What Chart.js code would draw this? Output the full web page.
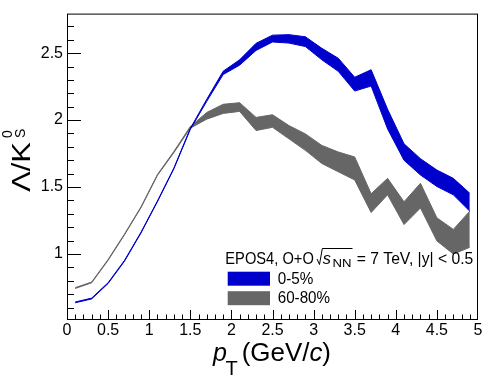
<!DOCTYPE html>
<html>
<head>
<meta charset="utf-8">
<script src="https://cdn.jsdelivr.net/npm/chart.js@4.4.0/dist/chart.umd.min.js"></script>
<style>
  html, body { margin: 0; padding: 0; background: #fff; }
  #wrap { width: 488px; height: 384px; }
</style>
</head>
<body>
<div id="wrap"><canvas id="chart" width="488" height="384"></canvas></div>
<script>
// pT bin centres (GeV/c)
const pT = [0.1, 0.3, 0.5, 0.7, 0.9, 1.1, 1.3, 1.5, 1.7, 1.9, 2.1, 2.3, 2.5,
            2.7, 2.9, 3.1, 3.3, 3.5, 3.7, 3.9, 4.1, 4.3, 4.5, 4.7, 4.9];

// 0-5% band (lower / upper edge)
const central_lo = [0.636, 0.665, 0.780, 0.947, 1.157, 1.390, 1.636, 1.930, 2.140, 2.340,
                    2.410, 2.520, 2.583, 2.575, 2.549, 2.450, 2.364, 2.217, 2.254, 1.934,
                    1.700, 1.590, 1.504, 1.442, 1.320];
const central_hi = [0.642, 0.671, 0.786, 0.953, 1.163, 1.396, 1.642, 1.938, 2.155, 2.365,
                    2.450, 2.573, 2.634, 2.638, 2.622, 2.536, 2.462, 2.320, 2.376, 2.081,
                    1.823, 1.712, 1.627, 1.565, 1.454];

// 60-80% band (lower / upper edge)
const periph_lo = [0.743, 0.785, 0.953, 1.144, 1.346, 1.587, 1.757, 1.940, 2.007, 2.050,
                   2.065, 1.922, 1.946, 1.860, 1.774, 1.676, 1.614, 1.553, 1.310, 1.442,
                   1.220, 1.344, 1.098, 1.000, 1.050];
const periph_hi = [0.749, 0.791, 0.959, 1.150, 1.352, 1.593, 1.766, 1.952, 2.057, 2.118,
                   2.130, 2.020, 2.040, 1.959, 1.897, 1.811, 1.762, 1.725, 1.450, 1.565,
                   1.390, 1.528, 1.270, 1.184, 1.320];

const xTicks = [0, 0.5, 1, 1.5, 2, 2.5, 3, 3.5, 4, 4.5, 5];
const yTicks = [1, 1.5, 2, 2.5];
const seriesLabels = ['0-5%', '60-80%'];
const seriesColors = ['#0000cc', '#666666'];

const FAMILY = '"Liberation Sans", Arial, Helvetica, sans-serif';

const toXY = (ys) => ys.map((y, i) => ({ x: pT[i], y: y }));

function bandEdge(label, ys, color, fill) {
    return {
        label: label,
        data: toXY(ys),
        borderColor: color,
        backgroundColor: color,
        borderWidth: 1,
        pointRadius: 0,
        tension: 0,
        fill: fill
    };
}

// draw text squeezed/stretched to a given width (ROOT fonts run a bit differently)
function fitText(ctx, s, x, y, font, w) {
    ctx.save();
    ctx.font = font;
    const m = ctx.measureText(s).width;
    ctx.translate(x, y);
    ctx.scale(w / m, 1);
    ctx.fillText(s, 0, 0);
    ctx.restore();
}

const rootFrame = {
    id: 'rootFrame',
    afterDraw(chart) {
        const ctx = chart.ctx;
        const area = chart.chartArea;
        const xs = chart.scales.x;
        const ys = chart.scales.y;

        ctx.save();
        ctx.strokeStyle = '#000';
        ctx.lineWidth = 1;

        // frame
        ctx.strokeRect(area.left + 0.5, area.top + 0.5,
                       area.right - area.left - 1, area.bottom - area.top);

        // y ticks, inside the frame
        ctx.beginPath();
        for (let k = 6; k <= 27; k++) {
            const v = k / 10;
            const py = Math.round(ys.getPixelForValue(v)) + 0.5;
            const len = (k % 5 === 0) ? 14 : 7;
            ctx.moveTo(area.left, py);
            ctx.lineTo(area.left + len, py);
        }
        // x ticks
        for (let k = 1; k < 50; k++) {
            const v = k / 10;
            const px = Math.round(xs.getPixelForValue(v)) + 0.5;
            const len = (k % 5 === 0) ? 9 : 4.5;
            ctx.moveTo(px, area.bottom);
            ctx.lineTo(px, area.bottom - len);
        }
        ctx.stroke();

        ctx.fillStyle = '#000';
        ctx.textBaseline = 'alphabetic';
        ctx.textAlign = 'left';

        // y title: Λ/K^0_S
        ctx.save();
        ctx.translate(30, 192);
        ctx.rotate(-Math.PI / 2);
        fitText(ctx, 'Λ/K', 0, 0, '25px ' + FAMILY, 50);
        ctx.font = '14px ' + FAMILY;
        ctx.fillText('0', 54, -18.5);
        ctx.fillText('S', 54, -5);
        ctx.restore();

        // x title: p_T(GeV/c)
        ctx.font = 'italic 25px ' + FAMILY;
        ctx.fillText('p', 213, 360.5);
        ctx.font = '20px ' + FAMILY;
        ctx.fillText('T', 225.5, 375);
        const parts = [['(GeV/', ''], ['c', 'italic '], [')', '']];
        let total = 0;
        parts.forEach(p => { ctx.font = p[1] + '25px ' + FAMILY; total += ctx.measureText(p[0]).width; });
        const sx = 89.3 / total;
        let cx = 241.7;
        parts.forEach(p => {
            ctx.font = p[1] + '25px ' + FAMILY;
            const w = ctx.measureText(p[0]).width * sx;
            fitText(ctx, p[0], cx, 360.5, ctx.font, w);
            cx += w;
        });

        // legend header: EPOS4, O+O sqrt(s_NN) = 7 TeV, |y| < 0.5
        fitText(ctx, 'EPOS4, O+O', 225.3, 264, '17px ' + FAMILY, 88.5);
        ctx.beginPath();
        ctx.moveTo(317, 259);
        ctx.lineTo(319.5, 264.5);
        ctx.lineTo(322.3, 248.5);
        ctx.lineTo(352.5, 248.5);
        ctx.stroke();
        fitText(ctx, 's', 322.8, 264, 'italic 17px ' + FAMILY, 8.2);
        fitText(ctx, 'NN', 332.5, 266.5, '10px ' + FAMILY, 19);
        fitText(ctx, '= 7 TeV, |y| < 0.5', 356.7, 264, '17px ' + FAMILY, 116.6);

        // legend entries
        const boxes = [[271.7, 283.6, 35.6], [291.2, 302.7, 52.3]];
        boxes.forEach((b, i) => {
            ctx.fillStyle = seriesColors[i];
            ctx.fillRect(227.7, b[0], 42.3, 14);
            ctx.fillStyle = '#000';
            fitText(ctx, seriesLabels[i], 277.7, b[1], '17px ' + FAMILY, b[2]);
        });

        ctx.restore();
    }
};

new Chart(document.getElementById('chart'), {
    type: 'line',
    data: {
        datasets: [
            bandEdge(seriesLabels[0] + ' lo', central_lo, seriesColors[0], false),
            bandEdge(seriesLabels[0], central_hi, seriesColors[0], '-1'),
            bandEdge(seriesLabels[1] + ' lo', periph_lo, seriesColors[1], false),
            bandEdge(seriesLabels[1], periph_hi, seriesColors[1], '-1')
        ]
    },
    options: {
        responsive: false,
        devicePixelRatio: 1,
        animation: false,
        layout: { padding: { top: 10, right: 10, left: 0, bottom: 0 } },
        plugins: {
            legend: { display: false },
            tooltip: { enabled: false }
        },
        scales: {
            x: {
                type: 'linear',
                min: 0,
                max: 5,
                grid: { display: false, drawTicks: false },
                border: { display: false },
                ticks: {
                    color: '#000',
                    font: { size: 16, family: FAMILY },
                    padding: 2,
                    maxRotation: 0,
                    autoSkip: false,
                    callback: (v) => String(v)
                },
                afterBuildTicks: (s) => { s.ticks = xTicks.map(v => ({ value: v })); },
                afterFit: (s) => { s.height = 65; }
            },
            y: {
                type: 'linear',
                min: 0.515,
                max: 2.795,
                grid: { display: false, drawTicks: false },
                border: { display: false },
                ticks: {
                    color: '#000',
                    font: { size: 16, family: FAMILY },
                    padding: 4,
                    callback: (v) => String(v)
                },
                afterBuildTicks: (s) => { s.ticks = yTicks.map(v => ({ value: v })); },
                afterFit: (s) => { s.width = 67; }
            }
        }
    },
    plugins: [rootFrame]
});
</script>
</body>
</html>
